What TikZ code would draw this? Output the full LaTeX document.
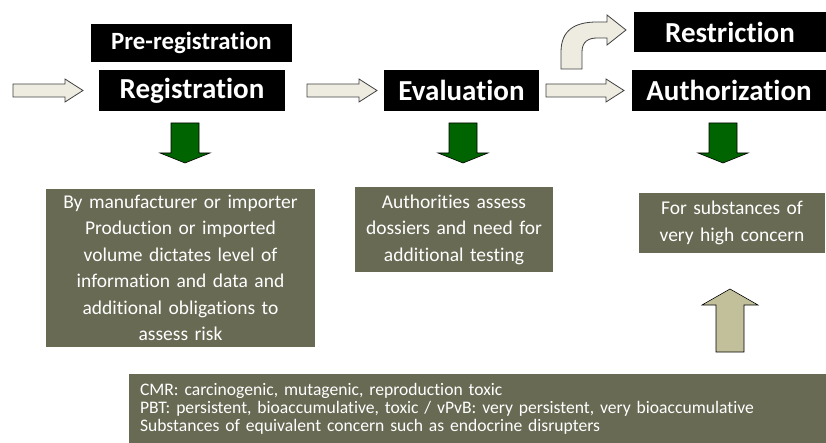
\documentclass[tikz,border=0pt]{standalone}
\usepackage{fontspec}
\setmainfont{Carlito}[Ligatures=NoCommon]
\definecolor{olivebox}{RGB}{104,106,84}
\definecolor{lightfill}{RGB}{238,236,225}
\definecolor{lightedge}{RGB}{64,64,64}
\definecolor{darkgreen}{RGB}{0,100,0}
\definecolor{khaki}{RGB}{194,192,155}
\tikzset{
  stage/.style={fill=black, text=white, inner sep=0pt, font=\fontsize{29}{32}\selectfont\bfseries},
  prestage/.style={fill=black, text=white, inner sep=0pt, font=\fontsize{24.8}{28}\selectfont\bfseries},
  infobox/.style={fill=olivebox, text=white, inner sep=0pt, align=center, font=\fontsize{19.5}{26.5}\selectfont},
  notebox/.style={fill=olivebox, text=white, inner xsep=11pt, inner ysep=0pt, align=left, font=\fontsize{17.6}{18}\selectfont},
  lightarrow/.style={fill=lightfill, draw=lightedge, line width=0.8pt, line join=miter},
  greenarrow/.style={fill=darkgreen, draw=black, line width=0.6pt, line join=miter},
  khakiarrow/.style={fill=khaki, draw=black, line width=0.6pt, line join=miter}
}
\newcommand\hblk[3]{% x1, x2, yc
  \filldraw[lightarrow] (#1,#3-6.5) -- (#2-18,#3-6.5) -- (#2-18,#3-11.5) -- (#2,#3) -- (#2-18,#3+11.5) -- (#2-18,#3+6.5) -- (#1,#3+6.5) -- cycle;}
\newcommand\vdown[1]{% xc
  \filldraw[greenarrow] (#1-14,123) -- (#1+14,123) -- (#1+14,153) -- (#1+25,153) -- (#1,163) -- (#1-25,153) -- (#1-14,153) -- cycle;}
\begin{document}
\begin{tikzpicture}[x=1pt,y=-1pt]
\useasboundingbox (0,0) rectangle (826,443);

% stage boxes
\node[prestage, minimum width=201pt, minimum height=38pt] (pre) at (191.5,43) {Pre-registration};
\node[stage, minimum width=186pt, minimum height=41pt] (reg) at (192,90.5) {Registration};
\node[stage, minimum width=155pt, minimum height=41pt] (eval) at (461.5,90.5) {Evaluation};
\node[stage, minimum width=194pt, minimum height=41pt] (auth) at (729,90.5) {Authorization};
\node[stage, minimum width=192pt, minimum height=40pt] (restr) at (730,32) {Restriction};

% horizontal block arrows
\hblk{13}{83}{90.5}
\hblk{307}{377}{90.5}
\hblk{546}{624}{90.5}

% curved block arrow to Restriction
\filldraw[lightarrow] (561,69) -- (561,52) .. controls (561,30) and (575,22) .. (597,22) -- (607,22) -- (607,15) -- (626,30) -- (607,45) -- (607,38) -- (597,38) .. controls (588,38) and (582,42) .. (582,52) -- (582,69) -- cycle;

% green down arrows
\vdown{185}
\vdown{463}
\vdown{723}

% info boxes
\node[infobox, minimum width=269pt, minimum height=158pt, text width=269pt] (regtxt) at (180.5,268) {By manufacturer or importer\\Production or imported\\volume dictates level of\\information and data and\\additional obligations to\\assess risk};
\node[infobox, minimum width=198pt, minimum height=85pt, text width=198pt] (evaltxt) at (454,229.5) {Authorities assess\\dossiers and need for\\additional testing};
\node[infobox, minimum width=186pt, minimum height=60pt, text width=186pt] (authtxt) at (732,223) {For substances of\\very high concern};

% up arrow
\filldraw[khakiarrow] (716,352) -- (716,305) -- (702,305) -- (730,289) -- (758,305) -- (744,305) -- (744,352) -- cycle;

% bottom note
\node[notebox, minimum width=697pt, minimum height=69pt, text width=675pt] (note) at (477.5,408.5) {CMR: carcinogenic, mutagenic, reproduction toxic\\PBT: persistent, bioaccumulative, toxic / vPvB: very persistent, very bioaccumulative\\Substances of equivalent concern such as endocrine disrupters};
\end{tikzpicture}
\end{document}
